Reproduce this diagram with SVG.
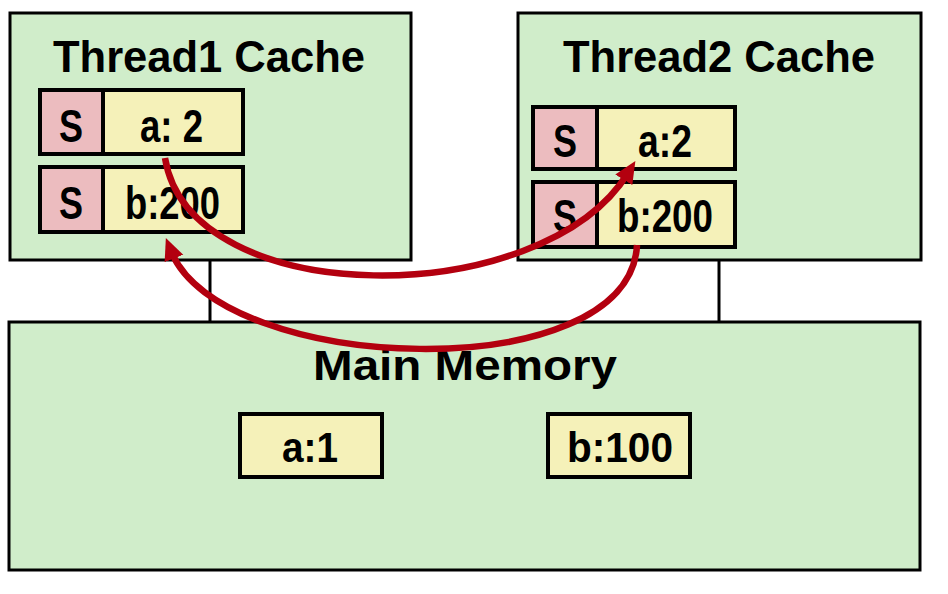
<svg xmlns="http://www.w3.org/2000/svg" width="948" height="594" viewBox="0 0 948 594">
<style>
.box{fill:#d0edca;stroke:#000;stroke-width:3}
.st{fill:#ecbcbf;stroke:#000;stroke-width:4}
.val{fill:#f5f1b9;stroke:#000;stroke-width:4}
.title{font-family:"Liberation Sans",Arial,sans-serif;font-weight:bold;font-size:44px;fill:#000}
.t{font-family:"Liberation Sans",Arial,sans-serif;font-weight:bold;font-size:47px;fill:#000;text-anchor:middle}
.m{font-family:"Liberation Sans",Arial,sans-serif;font-weight:bold;font-size:42px;fill:#000}
.line{stroke:#000;stroke-width:3;fill:none}
.arrow{stroke:#b3000f;stroke-width:6.5;fill:none;marker-end:url(#ah)}
</style>
<defs>
<marker id="ah" markerUnits="userSpaceOnUse" markerWidth="24" markerHeight="22" refX="8" refY="10" orient="auto">
<path d="M0,0 L22,10 L0,20 z" fill="#b3000f"/>
</marker>
</defs>
<rect width="948" height="594" fill="#fff"/>
<g id="bus">
<line class="line" x1="210" y1="260" x2="210" y2="322"/>
<line class="line" x1="719" y1="260" x2="719" y2="322"/>
</g>
<g id="thread1">
<rect class="box" x="10" y="13" width="401" height="247"/>
<text class="title" x="53" y="72" textLength="312" lengthAdjust="spacingAndGlyphs">Thread1 Cache</text>
<g id="t1a">
<rect class="st" x="40" y="90" width="63" height="64"/>
<rect class="val" x="103" y="90" width="140" height="64"/>
<text class="t" x="71" y="142" textLength="24" lengthAdjust="spacingAndGlyphs">S</text>
<text class="t" x="171.5" y="142" textLength="63" lengthAdjust="spacingAndGlyphs">a: 2</text>
</g>
<g id="t1b">
<rect class="st" x="40" y="167" width="63" height="65"/>
<rect class="val" x="103" y="167" width="140" height="65"/>
<text class="t" x="71" y="219" textLength="24" lengthAdjust="spacingAndGlyphs">S</text>
<text class="t" x="172.5" y="219" textLength="95" lengthAdjust="spacingAndGlyphs">b:200</text>
</g>
</g>
<g id="thread2">
<rect class="box" x="518" y="13" width="403" height="247"/>
<text class="title" x="563" y="72" textLength="312" lengthAdjust="spacingAndGlyphs">Thread2 Cache</text>
<g id="t2a">
<rect class="st" x="533" y="107" width="64" height="62"/>
<rect class="val" x="597" y="107" width="138" height="62"/>
<text class="t" x="565" y="157" textLength="24" lengthAdjust="spacingAndGlyphs">S</text>
<text class="t" x="665" y="157" textLength="54" lengthAdjust="spacingAndGlyphs">a:2</text>
</g>
<g id="t2b">
<rect class="st" x="533" y="182" width="64" height="65"/>
<rect class="val" x="597" y="182" width="138" height="65"/>
<text class="t" x="565" y="232" textLength="24" lengthAdjust="spacingAndGlyphs">S</text>
<text class="t" x="665" y="232" textLength="96" lengthAdjust="spacingAndGlyphs">b:200</text>
</g>
</g>
<g id="memory">
<rect class="box" x="9" y="322" width="911" height="248"/>
<text class="m" x="313" y="380" textLength="304" lengthAdjust="spacingAndGlyphs">Main Memory</text>
<g id="ma">
<rect class="val" x="240" y="414" width="142" height="63"/>
<text class="m" x="282" y="462" textLength="56" lengthAdjust="spacingAndGlyphs">a:1</text>
</g>
<g id="mb">
<rect class="val" x="548" y="414" width="142" height="63"/>
<text class="m" x="567" y="462" textLength="106" lengthAdjust="spacingAndGlyphs">b:100</text>
</g>
</g>
<g id="connectors">
<path class="arrow" d="M165,158 C190,312 542,312 628,173"/>
<path class="arrow" d="M637,245 C630,390 220,375 171,251"/>
</g>
</svg>
